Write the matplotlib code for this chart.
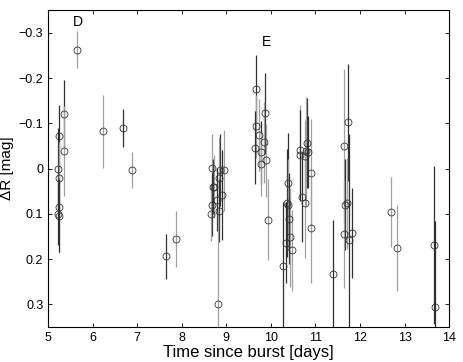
import matplotlib
matplotlib.use('Agg')
import matplotlib.pyplot as plt
from matplotlib.ticker import FuncFormatter

plt.rcParams['font.family'] = ['Liberation Sans', 'DejaVu Sans']

# time since burst [days], Delta R [mag], error [mag], shade (0 = dark, 1 = light)
t = [5.22, 5.24, 5.25, 5.25, 5.24, 5.23, 5.36, 5.36, 5.64, 6.24, 6.67, 6.88,
     7.64, 7.88,
     8.67, 8.70, 8.72, 8.67, 8.66, 8.78, 8.85, 8.94, 8.83, 8.90, 8.84, 8.81,
     9.67, 9.86, 9.66, 9.73, 9.84, 9.65, 9.78, 9.88, 9.78, 9.93,
     10.39, 10.37, 10.38, 10.40, 10.43, 10.34, 10.47, 10.28,
     10.81, 10.66, 10.79, 10.83, 10.65, 10.76, 10.89, 10.69, 10.76, 10.91,
     11.40, 11.74, 11.65, 11.66, 11.70, 11.65, 11.75, 11.83,
     12.69, 12.83, 13.66, 13.68]
dR = [0.000, -0.071, 0.022, 0.086, 0.104, 0.100, -0.120, -0.039, -0.263,
      -0.082, -0.090, 0.004, 0.194, 0.155,
      -0.002, 0.040, 0.040, 0.080, 0.100, 0.069, 0.003, 0.004, 0.021, 0.058,
      0.093, 0.300,
      -0.175, -0.122, -0.093, -0.074, -0.058, -0.046, -0.036, -0.018, -0.009,
      0.113,
      0.032, 0.076, 0.080, 0.111, 0.152, 0.164, 0.181, 0.215,
      -0.056, -0.040, -0.038, -0.036, -0.029, -0.027, 0.010, 0.063, 0.077,
      0.132,
      0.233, -0.102, -0.049, 0.080, 0.077, 0.145, 0.159, 0.142,
      0.096, 0.175, 0.169, 0.305]
err = [0.09, 0.07, 0.08, 0.10, 0.08, 0.07, 0.075, 0.10, 0.04, 0.08, 0.042,
       0.04, 0.05, 0.062,
       0.075, 0.06, 0.07, 0.07, 0.06, 0.07, 0.08, 0.09, 0.09, 0.10, 0.07, 0.21,
       0.075, 0.09, 0.07, 0.08, 0.09, 0.08, 0.07, 0.08, 0.07, 0.09,
       0.11, 0.12, 0.10, 0.10, 0.11, 0.09, 0.09, 0.14,
       0.10, 0.10, 0.12, 0.08, 0.10, 0.08, 0.12, 0.10, 0.12, 0.12,
       0.12, 0.13, 0.17, 0.10, 0.10, 0.12, 0.236, 0.10,
       0.077, 0.095, 0.174, 0.19]
shade = [0, 0, 1, 1, 0, 0, 0, 1, 1, 1, 0, 1, 0, 1,
         1, 0, 1, 0, 1, 0, 0, 1, 1, 0, 0, 1,
         0, 0, 1, 1, 1, 0, 0, 1, 1, 1,
         0, 0, 1, 0, 1, 0, 1, 0,
         0, 1, 1, 0, 0, 1, 1, 0, 1, 1,
         0, 0, 1, 0, 1, 1, 0, 0,
         1, 1, 0, 0]

labels = ['D', 'E']
label_t = [5.66, 9.91]
label_dR = [-0.323, -0.28]

fig = plt.figure(figsize=(4.63, 3.62), dpi=100)
ax = fig.add_axes([0.104, 0.097, 0.866, 0.875])

colors = ['#303030', '#a0a0a0']
for i in range(len(t)):
    ax.errorbar(t[i], dR[i], yerr=err[i], fmt='none', ecolor=colors[shade[i]],
                elinewidth=0.9, capsize=0)
ax.plot(t, dR, 'o', mfc='none', mec='#333333', ms=5, mew=0.6)

for s, x, y in zip(labels, label_t, label_dR):
    ax.text(x, y, s, ha='center', va='center', fontsize=10)

ax.set_xlim(5, 14)
ax.set_ylim(0.35, -0.35)
ax.set_xticks(range(5, 15))
ax.set_yticks([-0.3, -0.2, -0.1, 0, 0.1, 0.2, 0.3])
ax.yaxis.set_major_formatter(FuncFormatter(
    lambda v, p: '0' if abs(v) < 1e-9 else ('%.1f' % v).replace('-', '\u2212')))
ax.tick_params(direction='in', top=True, right=True, labelsize=9, length=3,
               width=0.6)
for sp in ax.spines.values():
    sp.set_linewidth(0.8)

ax.set_xlabel('Time since burst [days]', fontsize=12, labelpad=1)
ax.set_ylabel('\u0394R [mag]', fontsize=11, labelpad=3)

fig.savefig('out.png', dpi=100)
